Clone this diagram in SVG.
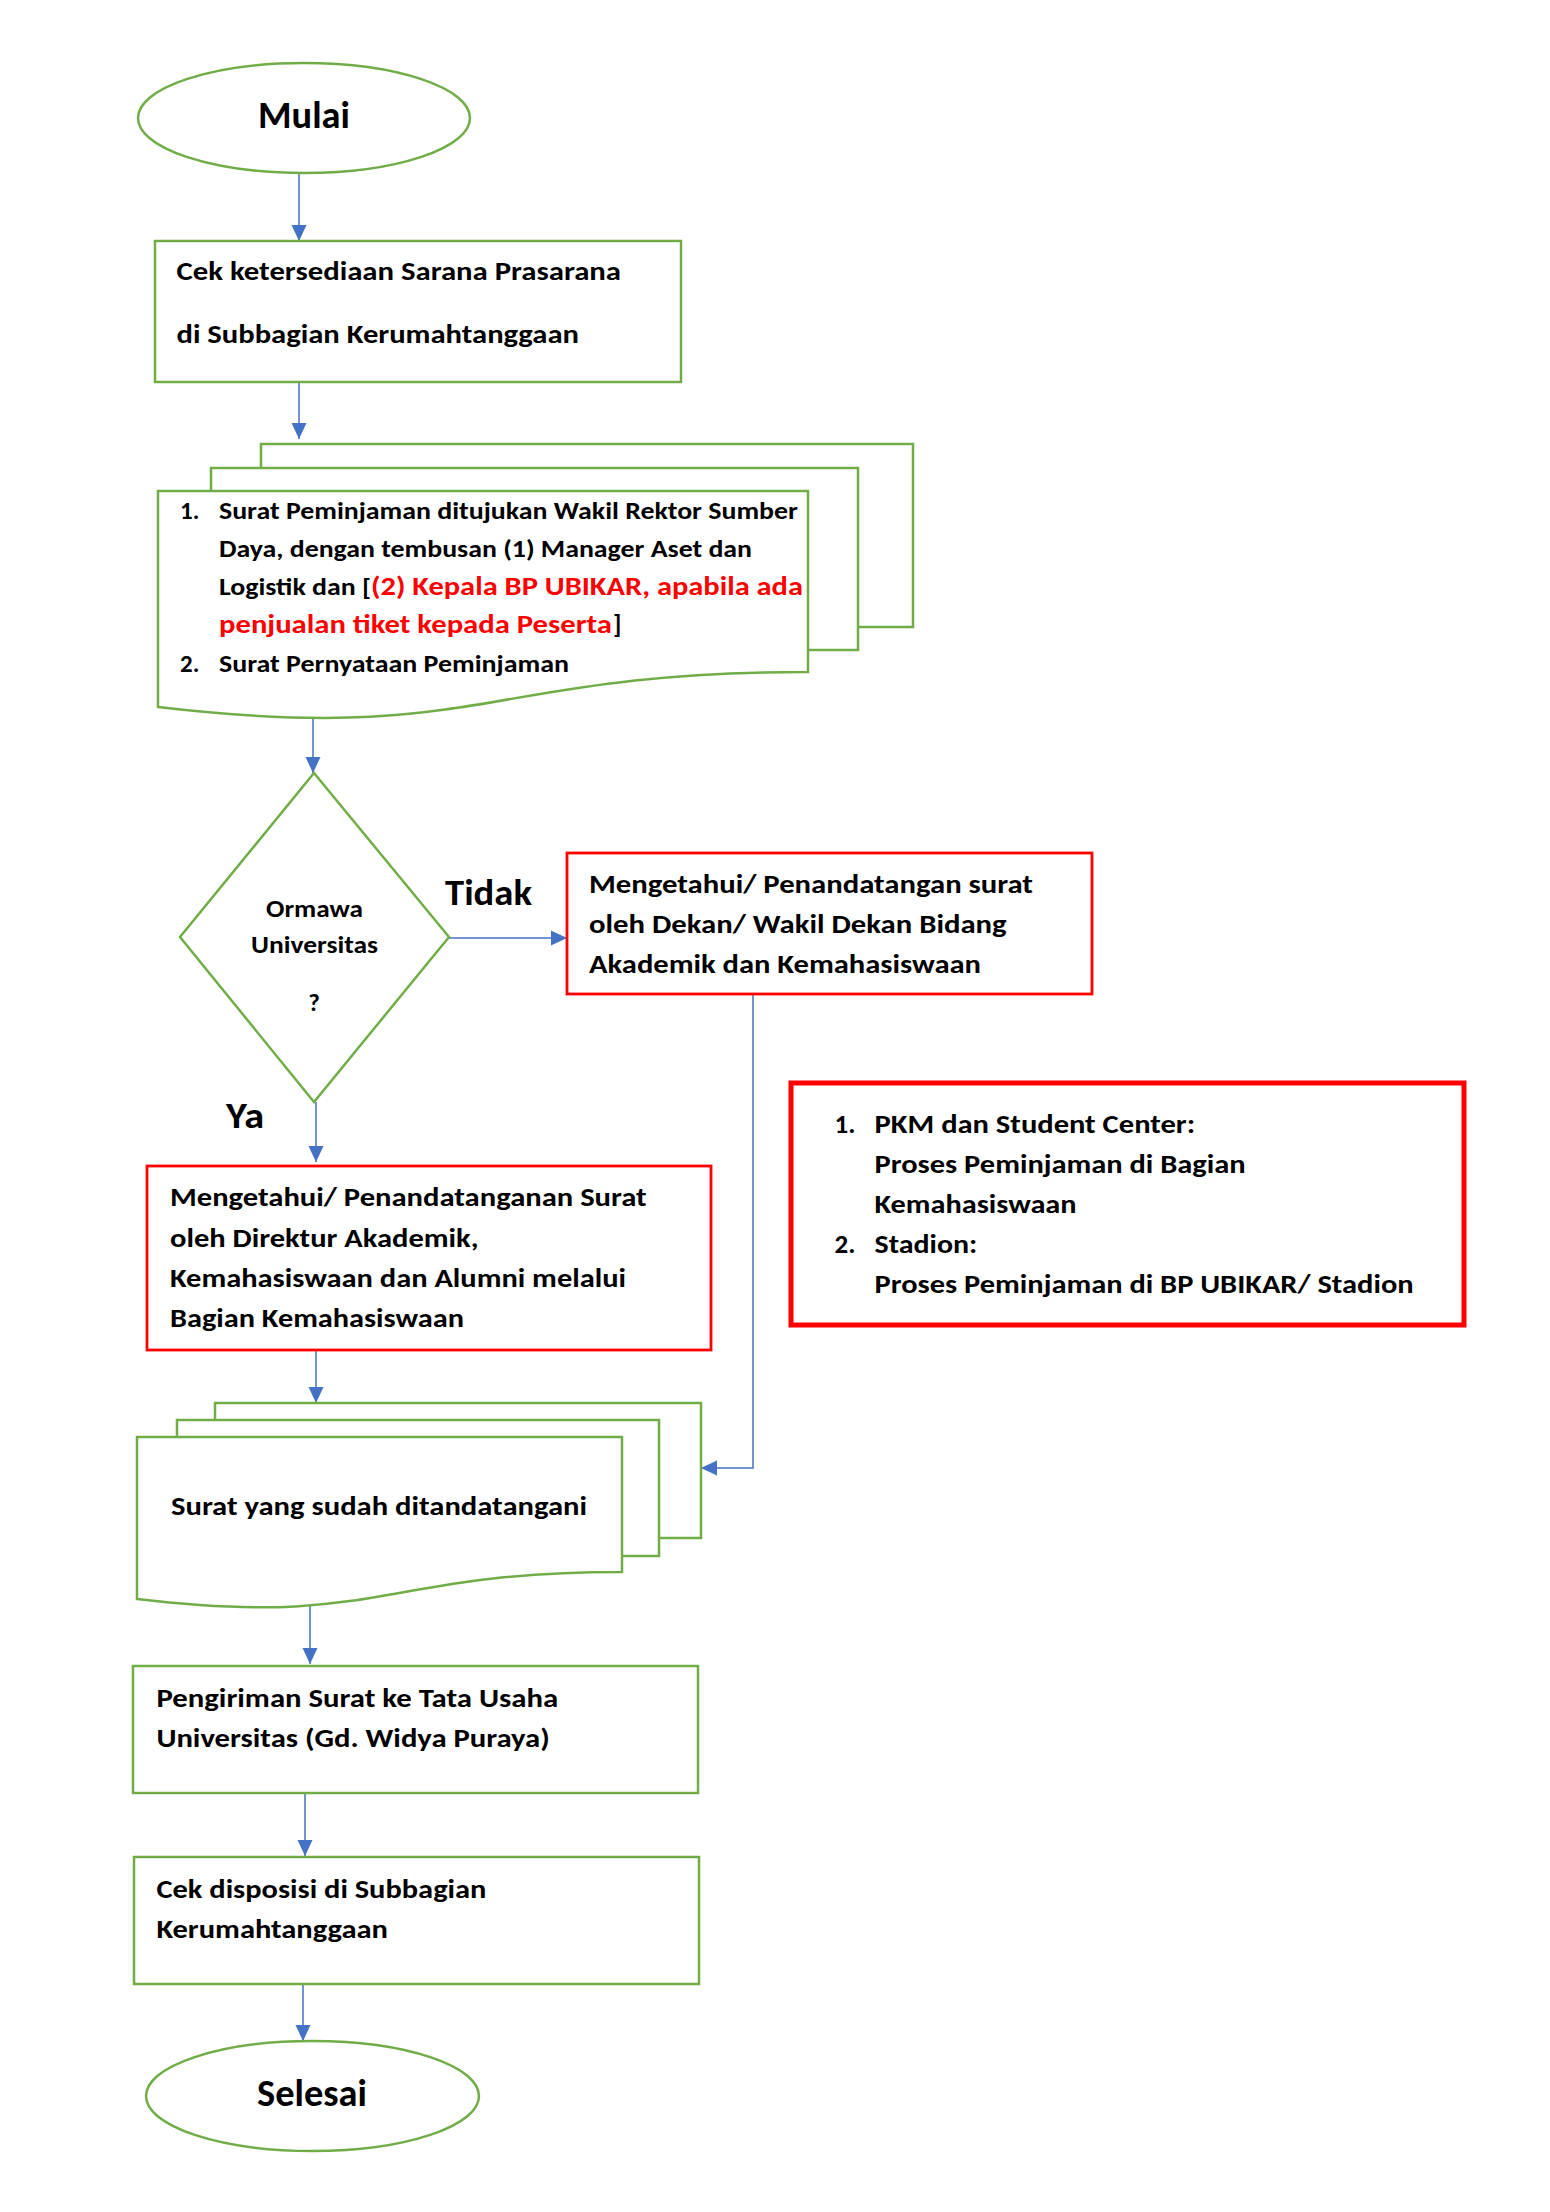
<svg xmlns="http://www.w3.org/2000/svg" width="1550" height="2212" viewBox="0 0 1550 2212">
<style>
.t{font-family:Carlito,Calibri,Lato,"Open Sans",sans-serif;font-weight:bold;fill:#000}
.r{fill:#FF0000}
.g{fill:#fff;stroke:#70AD47;stroke-width:2.5}
.gl{fill:none;stroke:#70AD47;stroke-width:2.5}
.rb{fill:#fff;stroke:#FF0000;stroke-width:2.8}
.c{fill:none;stroke:#4472C4;stroke-width:1.5}
</style>
<defs>
<marker id="ah" markerUnits="userSpaceOnUse" markerWidth="16" markerHeight="16" viewBox="0 0 16 16" refX="16" refY="8" orient="auto">
<path d="M0,0.5 L16,8 L0,15.5 Z" fill="#4472C4"/>
</marker>
</defs>
<rect width="1550" height="2212" fill="#fff"/>

<g id="connectors">
<path class="c" d="M299,173 V241" marker-end="url(#ah)"/>
<path class="c" d="M299,382 V439" marker-end="url(#ah)"/>
<path class="c" d="M313,716 V773" marker-end="url(#ah)"/>
<path class="c" d="M449,938 H567" marker-end="url(#ah)"/>
<path class="c" d="M316,1102 V1162" marker-end="url(#ah)"/>
<path class="c" d="M753,994 V1468 H701" marker-end="url(#ah)"/>
<path class="c" d="M316,1350 V1403" marker-end="url(#ah)"/>
<path class="c" d="M310,1606 V1664" marker-end="url(#ah)"/>
<path class="c" d="M305,1793 V1856" marker-end="url(#ah)"/>
<path class="c" d="M303,1984 V2041" marker-end="url(#ah)"/>
</g>

<g id="mulai">
<ellipse class="g" cx="304" cy="118" rx="166" ry="55"/>
<text class="t" x="304" y="128" font-size="38" text-anchor="middle" textLength="92" lengthAdjust="spacingAndGlyphs">Mulai</text>
</g>

<g id="cek-ketersediaan">
<rect class="g" x="155" y="241" width="526" height="141"/>
<text class="t" x="176.5" y="280" font-size="27" textLength="444.5" lengthAdjust="spacingAndGlyphs">Cek ketersediaan Sarana Prasarana</text>
<text class="t" x="176.5" y="343" font-size="27" textLength="402.5" lengthAdjust="spacingAndGlyphs">di Subbagian Kerumahtanggaan</text>
</g>

<g id="surat-peminjaman">
<path class="gl" d="M858,627 H913 V444 H261 V468"/>
<path class="g" d="M808,650 H858 V468 H211 V491"/>
<path class="g" d="M158,491 H808 V672 C483,672 483,745 158,707 Z"/>
<text class="t" x="180" y="519" font-size="25">1.</text>
<text class="t" x="219" y="519" font-size="25" textLength="579" lengthAdjust="spacingAndGlyphs">Surat Peminjaman ditujukan Wakil Rektor Sumber</text>
<text class="t" x="219" y="557" font-size="25" textLength="533" lengthAdjust="spacingAndGlyphs">Daya, dengan tembusan (1) Manager Aset dan</text>
<text class="t" x="219" y="595" font-size="25" textLength="152" lengthAdjust="spacingAndGlyphs">Logistik dan [</text>
<text class="t r" x="371" y="595" font-size="26" textLength="432" lengthAdjust="spacingAndGlyphs">(2) Kepala BP UBIKAR, apabila ada</text>
<text class="t r" x="219" y="633" font-size="26" textLength="393" lengthAdjust="spacingAndGlyphs">penjualan tiket kepada Peserta</text>
<text class="t" x="613" y="633" font-size="26">]</text>
<text class="t" x="180" y="672" font-size="25">2.</text>
<text class="t" x="219" y="672" font-size="25" textLength="350" lengthAdjust="spacingAndGlyphs">Surat Pernyataan Peminjaman</text>
</g>

<g id="ormawa">
<path class="g" d="M314,773 L449,937 L314,1102 L180,937 Z"/>
<text class="t" x="314.5" y="917" font-size="25" text-anchor="middle" textLength="97" lengthAdjust="spacingAndGlyphs">Ormawa</text>
<text class="t" x="314.5" y="953" font-size="25" text-anchor="middle" textLength="127" lengthAdjust="spacingAndGlyphs">Universitas</text>
<text class="t" x="314" y="1011" font-size="25" text-anchor="middle">?</text>
</g>

<g id="label-tidak">
<text class="t" x="445" y="905" font-size="36" textLength="87" lengthAdjust="spacingAndGlyphs">Tidak</text>
</g>
<g id="label-ya">
<text class="t" x="226" y="1128" font-size="36" textLength="38" lengthAdjust="spacingAndGlyphs">Ya</text>
</g>

<g id="mengetahui-dekan">
<rect class="rb" x="567" y="853" width="525" height="141"/>
<text class="t" x="589" y="893" font-size="27" textLength="444" lengthAdjust="spacingAndGlyphs">Mengetahui/ Penandatangan surat</text>
<text class="t" x="589" y="933" font-size="27" textLength="417.6" lengthAdjust="spacingAndGlyphs">oleh Dekan/ Wakil Dekan Bidang</text>
<text class="t" x="589" y="973" font-size="27" textLength="392" lengthAdjust="spacingAndGlyphs">Akademik dan Kemahasiswaan</text>
</g>

<g id="keterangan">
<rect x="791" y="1083" width="673" height="242" fill="#fff" stroke="#FF0000" stroke-width="5"/>
<text class="t" x="834.5" y="1133" font-size="27">1.</text>
<text class="t" x="874.6" y="1133" font-size="27" textLength="320.5" lengthAdjust="spacingAndGlyphs">PKM dan Student Center:</text>
<text class="t" x="874.6" y="1173" font-size="27" textLength="371" lengthAdjust="spacingAndGlyphs">Proses Peminjaman di Bagian</text>
<text class="t" x="874.6" y="1213" font-size="27" textLength="202" lengthAdjust="spacingAndGlyphs">Kemahasiswaan</text>
<text class="t" x="834.5" y="1253" font-size="27">2.</text>
<text class="t" x="874.6" y="1253" font-size="27" textLength="102.7" lengthAdjust="spacingAndGlyphs">Stadion:</text>
<text class="t" x="874.6" y="1293" font-size="27" textLength="539" lengthAdjust="spacingAndGlyphs">Proses Peminjaman di BP UBIKAR/ Stadion</text>
</g>

<g id="mengetahui-direktur">
<rect class="rb" x="147" y="1166" width="564" height="184"/>
<text class="t" x="170" y="1206" font-size="27" textLength="476.7" lengthAdjust="spacingAndGlyphs">Mengetahui/ Penandatanganan Surat</text>
<text class="t" x="170" y="1247" font-size="27" textLength="308.6" lengthAdjust="spacingAndGlyphs">oleh Direktur Akademik,</text>
<text class="t" x="170" y="1287" font-size="27" textLength="456" lengthAdjust="spacingAndGlyphs">Kemahasiswaan dan Alumni melalui</text>
<text class="t" x="170" y="1327" font-size="27" textLength="294" lengthAdjust="spacingAndGlyphs">Bagian Kemahasiswaan</text>
</g>

<g id="surat-ditandatangani">
<path class="gl" d="M659,1538 H701 V1403 H215 V1420"/>
<path class="g" d="M622,1556 H659 V1420 H177 V1437"/>
<path class="g" d="M137,1437 H622 V1572 C380,1572 380,1628 137,1599 Z"/>
<text class="t" x="171" y="1515" font-size="27" textLength="416" lengthAdjust="spacingAndGlyphs">Surat yang sudah ditandatangani</text>
</g>

<g id="pengiriman">
<rect class="g" x="133" y="1666" width="565" height="127"/>
<text class="t" x="156.4" y="1707" font-size="27" textLength="401.8" lengthAdjust="spacingAndGlyphs">Pengiriman Surat ke Tata Usaha</text>
<text class="t" x="156.4" y="1747" font-size="27" textLength="393.4" lengthAdjust="spacingAndGlyphs">Universitas (Gd. Widya Puraya)</text>
</g>

<g id="cek-disposisi">
<rect class="g" x="134" y="1857" width="565" height="127"/>
<text class="t" x="156.4" y="1898" font-size="27" textLength="330" lengthAdjust="spacingAndGlyphs">Cek disposisi di Subbagian</text>
<text class="t" x="156.4" y="1938" font-size="27" textLength="231.5" lengthAdjust="spacingAndGlyphs">Kerumahtanggaan</text>
</g>

<g id="selesai">
<ellipse class="g" cx="312.5" cy="2096" rx="166.5" ry="55"/>
<text class="t" x="312" y="2106" font-size="38" text-anchor="middle" textLength="110" lengthAdjust="spacingAndGlyphs">Selesai</text>
</g>
</svg>
